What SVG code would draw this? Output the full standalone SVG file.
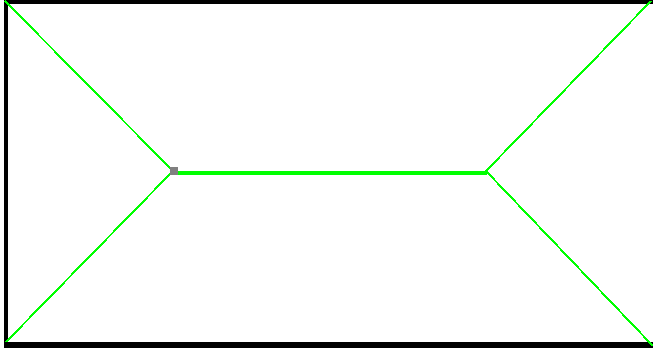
<svg xmlns="http://www.w3.org/2000/svg" width="653" height="348" viewBox="0 0 653 348">
<style>
.frame{stroke:#000;fill:none;shape-rendering:crispEdges}
.edge{stroke:#00ff00;fill:none;stroke-width:2;shape-rendering:crispEdges}
.bar{stroke:#00ff00;stroke-width:4;shape-rendering:crispEdges}
</style>
<rect width="653" height="348" fill="#fff"/>
<g id="frame">
<line class="frame" x1="4" y1="2" x2="653" y2="2" stroke-width="4"/>
<line class="frame" x1="6" y1="0" x2="6" y2="348" stroke-width="4"/>
<line class="frame" x1="4" y1="345" x2="653" y2="345" stroke-width="6"/>
</g>
<g id="connectors">
<line class="edge" x1="5" y1="1" x2="173" y2="171"/>
<line class="edge" x1="6" y1="342" x2="173" y2="171"/>
<line class="bar" x1="176" y1="173" x2="487" y2="173"/>
<line class="edge" x1="651" y1="1" x2="486" y2="171"/>
<line class="edge" x1="486" y1="171" x2="653" y2="346"/>
</g>
<g id="node-left">
<rect x="170" y="167" width="8" height="8" fill="#808080" shape-rendering="crispEdges"/>
</g>
</svg>
